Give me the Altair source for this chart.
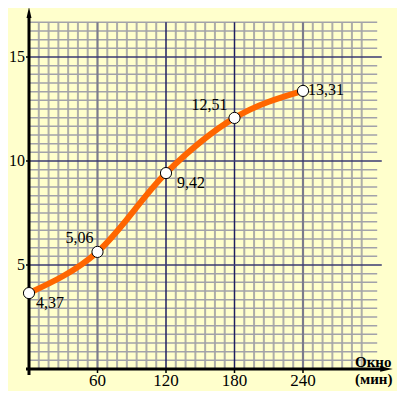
import altair as alt
import pandas as pd

# ---- data ----
minutes = [0, 60, 120, 180, 240]
values = [3.65, 5.63, 9.42, 12.07, 13.37]
labels = ["4,37", "5,06", "9,42", "12,51", "13,31"]
x_ticks = [60, 120, 180, 240]
y_ticks = [5, 10, 15]
x_title = ["Окно", "(мин)"]

# label placement (align, dx, dy) per point
label_style = [("left", 7, 10), ("right", -4, -14), ("left", 11, 10),
               ("right", -7, -13), ("left", 5, -1)]

W, H = 368, 361
PX_PER_MIN = 274 / 240
PX_PER_UNIT = 20.8
XMAX = W / PX_PER_MIN
YMAX = H / PX_PER_UNIT

xs = alt.Scale(domain=[0, XMAX], nice=False, zero=False)
ys = alt.Scale(domain=[0, YMAX], nice=False, zero=False)

FONT = "Liberation Serif"

df = pd.DataFrame({"t": minutes, "v": values, "lab": labels, "i": list(range(len(minutes)))})
xt = pd.DataFrame({"t": x_ticks, "lab": [str(v) for v in x_ticks]})
yt = pd.DataFrame({"v": y_ticks, "lab": [str(v) for v in y_ticks]})

# paper grid
gx_step = 60 / 7
gy_step = 5 / 12
gtop = 40 * gy_step
minor_v = pd.DataFrame({"x": [i * gx_step for i in range(1, 36) if i % 7], "y0": 0.0, "y1": gtop})
minor_h = pd.DataFrame({"y": [j * gy_step for j in range(1, 41) if j % 12], "x0": 0.0, "x1": 305.0})
major_h = pd.DataFrame({"y": y_ticks, "x0": 0.0, "x1": 309.0})
major_v_gray = pd.DataFrame({"x": [60, 240], "y0": 0.0, "y1": gtop})
major_v_navy = pd.DataFrame({"x": [120, 180], "y0": 0.0, "y1": gtop})


def vlines(d, color, width):
    return alt.Chart(d).mark_rule(color=color, strokeWidth=width).encode(
        x=alt.X("x:Q", scale=xs, axis=None),
        y=alt.Y("y0:Q", scale=ys, axis=None),
        y2="y1:Q",
    )


def hlines(d, color, width):
    return alt.Chart(d).mark_rule(color=color, strokeWidth=width).encode(
        y=alt.Y("y:Q", scale=ys, axis=None),
        x=alt.X("x0:Q", scale=xs, axis=None),
        x2="x1:Q",
    )


grid = (
    vlines(minor_v, "#AEAEA8", 2)
    + hlines(minor_h, "#A2A2AA", 1.5)
    + vlines(major_v_gray, "#7C7C8C", 2.2)
    + vlines(major_v_navy, "#202060", 1.5)
    + hlines(major_h, "#3A3A72", 1.6)
)

base = alt.Chart(df)

line = base.mark_line(color="#FF6600", strokeWidth=6, interpolate="monotone").encode(
    x=alt.X("t:Q", scale=xs, axis=None),
    y=alt.Y("v:Q", scale=ys, axis=None),
)

points = base.mark_point(filled=True, fill="white", stroke="black", strokeWidth=1,
                         size=125, opacity=1).encode(
    x=alt.X("t:Q", scale=xs, axis=None),
    y=alt.Y("v:Q", scale=ys, axis=None),
)

text_layers = []
for idx, (al, dx, dy) in enumerate(label_style):
    text_layers.append(
        base.transform_filter(alt.datum.i == idx)
        .mark_text(align=al, baseline="middle", dx=dx, dy=dy, font=FONT,
                   fontSize=16, color="black")
        .encode(x=alt.X("t:Q", scale=xs, axis=None),
                y=alt.Y("v:Q", scale=ys, axis=None),
                text="lab:N")
    )

# tick marks and tick labels
x_tick_marks = alt.Chart(xt).mark_rule(color="black", strokeWidth=1.5).encode(
    x=alt.X("t:Q", scale=xs, axis=None), y=alt.value(H), y2=alt.value(H + 4))
x_tick_labels = alt.Chart(xt).mark_text(
    align="center", baseline="alphabetic", font=FONT, fontSize=17, color="black").encode(
    x=alt.X("t:Q", scale=xs, axis=None), y=alt.value(378), text="lab:N")
y_tick_marks = alt.Chart(yt).mark_rule(color="black", strokeWidth=1.5).encode(
    y=alt.Y("v:Q", scale=ys, axis=None), x=alt.value(-3), x2=alt.value(0))
y_tick_labels = alt.Chart(yt).mark_text(
    align="right", baseline="alphabetic", dy=5, font=FONT, fontSize=16, color="black").encode(
    y=alt.Y("v:Q", scale=ys, axis=None), x=alt.value(-4), text="lab:N")

# axis lines and arrows (decoration, pixel positions)
one = pd.DataFrame({"a": [0]})
yaxis_line = alt.Chart(one).mark_rule(color="black", strokeWidth=3).encode(
    x=alt.value(0), y=alt.value(8), y2=alt.value(367))
xaxis_line = alt.Chart(one).mark_rule(color="black", strokeWidth=3).encode(
    y=alt.value(H), x=alt.value(-3), x2=alt.value(355))
arrow_up = alt.Chart(one).mark_point(
    shape="M0,-1L0.45,1L-0.45,1Z", filled=True, color="black", size=121, opacity=1).encode(
    x=alt.value(0), y=alt.value(4.5))
arrow_right = alt.Chart(one).mark_point(
    shape="M1,0L-1,0.45L-1,-0.45Z", filled=True, color="black", size=160, opacity=1).encode(
    x=alt.value(357.5), y=alt.value(H))

title_df = pd.DataFrame({"txt": x_title, "k": [0, 1]})
t1 = alt.Chart(title_df).transform_filter(alt.datum.k == 0).mark_text(
    align="left", baseline="alphabetic", font=FONT, fontSize=15, fontWeight="bold",
    color="black").encode(x=alt.value(326), y=alt.value(359), text="txt:N")
t2 = alt.Chart(title_df).transform_filter(alt.datum.k == 1).mark_text(
    align="left", baseline="alphabetic", font=FONT, fontSize=15, fontWeight="bold",
    color="black").encode(x=alt.value(326), y=alt.value(376), text="txt:N")

chart = alt.layer(
    grid, yaxis_line, xaxis_line, x_tick_marks, y_tick_marks, line, points, *text_layers,
    x_tick_labels, y_tick_labels, arrow_up, arrow_right, t1, t2
).properties(
    width=W, height=H,
    autosize=alt.AutoSizeParams(type="none"),
    padding={"left": 21, "top": 0, "right": 0, "bottom": 22},
    background="#FFFFCC",
).configure_view(stroke=None)

chart.save("out.html", embed_options={"renderer": "svg", "actions": False})
